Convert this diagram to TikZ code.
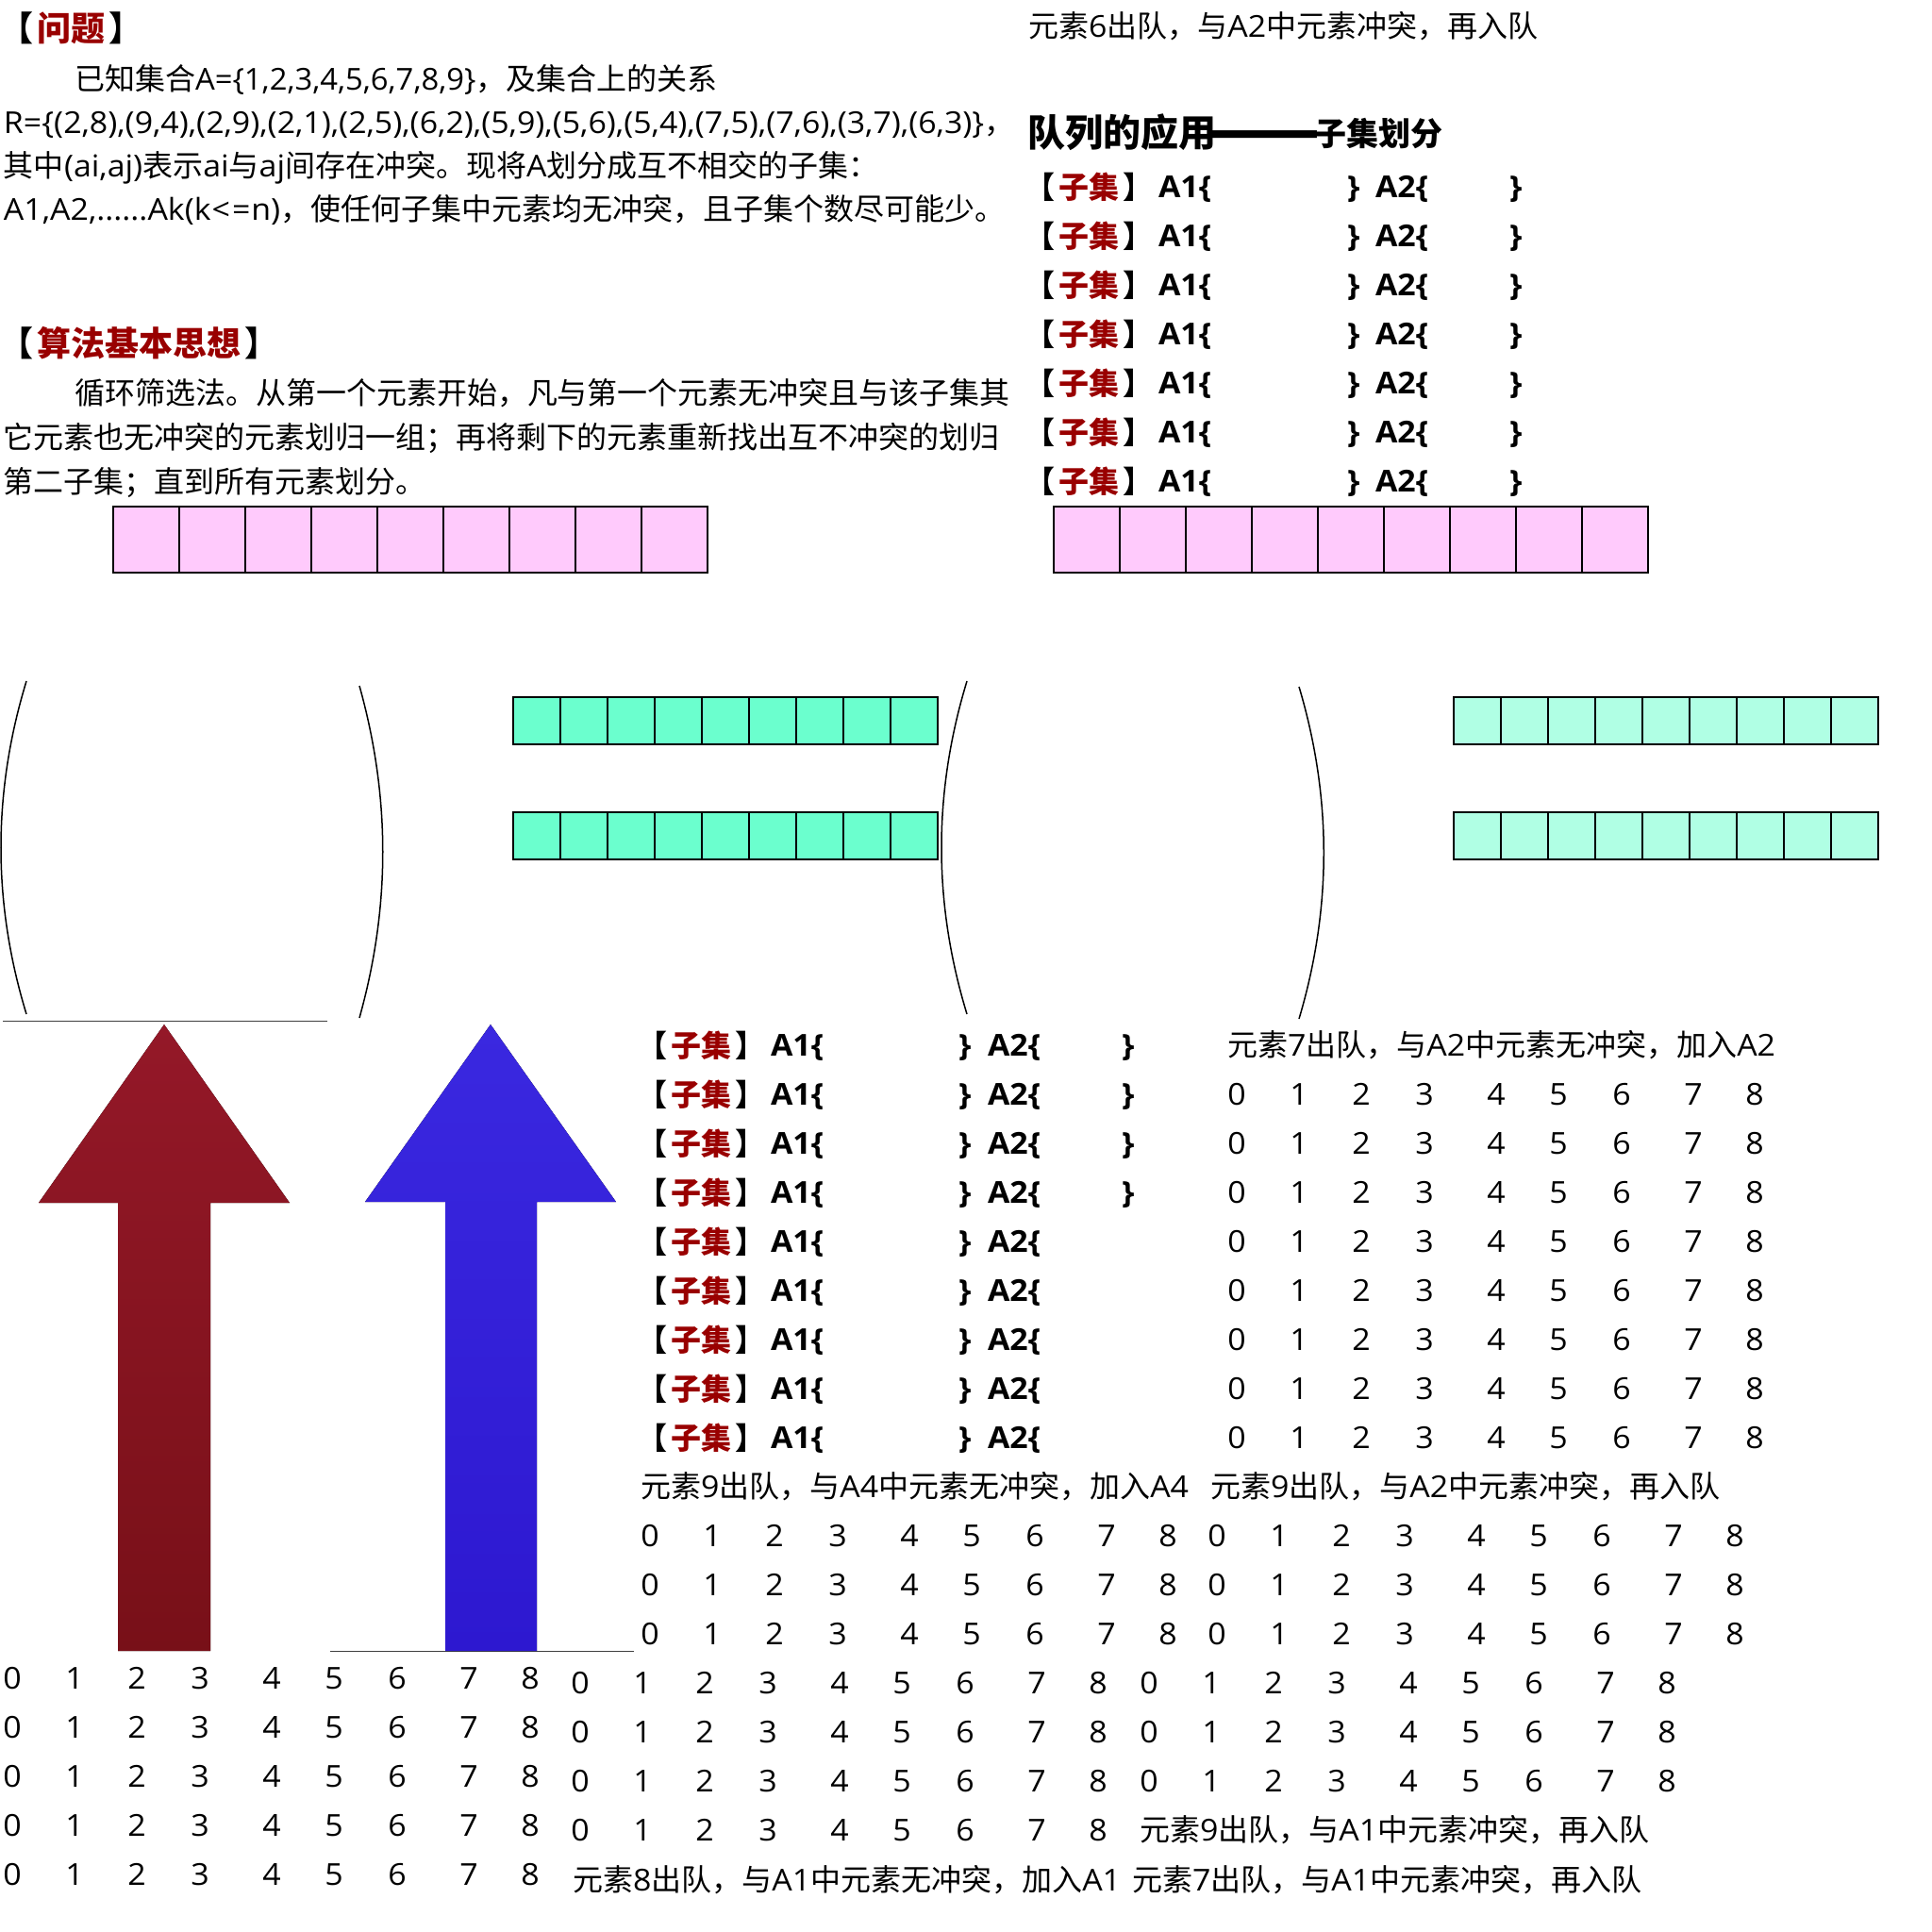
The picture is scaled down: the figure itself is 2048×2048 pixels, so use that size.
\documentclass[tikz,border=0pt]{standalone}
\usepackage{fontspec}
\setmainfont[FakeStretch=1.06]{Open Sans}
\newfontfamily\mildlatin[FakeStretch=1.025]{Open Sans}
\newfontfamily\cjk{Noto Sans CJK SC}
\newcommand{\Z}[1]{{\cjk #1}}
\definecolor{hdred}{HTML}{990000}
\definecolor{cellpink}{HTML}{FFCAFC}
\definecolor{cellgreen}{HTML}{6BFFCE}
\definecolor{cellmint}{HTML}{B0FFE4}
\definecolor{redtop}{HTML}{941828}
\definecolor{redbot}{HTML}{781018}
\definecolor{bluetop}{HTML}{3A28E0}
\definecolor{bluebot}{HTML}{2D18D0}
\tikzset{
  txt/.style={anchor=base west,inner sep=0pt,outer sep=0pt,font=\fontsize{32}{32}\selectfont},
  setlabel/.style={txt,font=\fontsize{32}{32}\selectfont\bfseries},
  heading/.style={txt,font=\fontsize{36}{36}\selectfont\bfseries},
  digit/.style={anchor=base,inner sep=0pt,outer sep=0pt,font=\fontsize{32}{32}\selectfont},
  cell/.style={draw=black,line width=1.4pt,inner sep=0pt,outer sep=0pt,anchor=north west,minimum width=#1,minimum height=#1},
  frameline/.style={draw=black,line width=2.6pt},
  bow/.style={draw=black,line width=1.5pt},
  hairline/.style={draw=black!75,line width=1pt},
}
\newcommand{\brk}[1]{\Z{【\kern4pt\textcolor{hdred}{#1}\kern4pt】}}
\newcommand{\digitrow}[3]{%
  \foreach \d/\off in {0/0,1/66,2/132,3/199,4/275,5/341,6/408,7/484,8/549}{%
    \node[digit] (#1-\d) at ({#2+\off},#3) {\d};}}
\newcommand{\setrow}[6]{% name, x of bracket, x A1, x }, x A2, y
  \node[setlabel] (#1-a) at ({#2-4},{#6+1}) {\brk{子集}};
  \node[setlabel] (#1-b) at (#3,#6) {A1\{};
  \node[setlabel] (#1-c) at (#4,#6) {\}};
  \node[setlabel] (#1-d) at (#5,#6) {A2\{};}
\begin{document}
\begin{tikzpicture}[x=1pt,y=-1pt]
\useasboundingbox (0,0) rectangle (2048,2048);
% left text
\node[heading] (q) at (-1,43) {\brk{问题}};
\node[txt] (l1) at (79,95) {\Z{已知集合}{\mildlatin A=\{1,2,3,4,5,6,7,8,9\}}\Z{，及集合上的关系}};
\node[txt] (l2) at (4,141) {R=\{(2,8),(9,4),(2,9),(2,1),(2,5),(6,2),(5,9),(5,6),(5,4),(7,5),(7,6),(3,7),(6,3)\}\Z{，}};
\node[txt] (l3) at (4,187) {\Z{其中}(ai,aj)\Z{表示}ai\Z{与}aj\Z{间存在冲突。现将}A\Z{划分成互不相交的子集：}};
\node[txt] (l4) at (4,233) {A1,A2,......Ak(k\kern1pt<\kern2pt=\kern1pt n)\Z{，使任何子集中元素均无冲突，且子集个数尽可能少。}};
\node[heading] (alg) at (-1,377) {\brk{算法基本思想}};
\node[txt] (m1) at (79,428) {\Z{循环筛选法。从第一个元素开始，凡与第一个元素无冲突且与该子集其}};
\node[txt] (m2) at (4,475) {\Z{它元素也无冲突的元素划归一组；再将剩下的元素重新找出互不冲突的划归}};
\node[txt] (m3) at (4,522) {\Z{第二子集；直到所有元素划分。}};
% right top text
\node[txt] (t6) at (1090,39) {\Z{元素}6\Z{出队，与}A2\Z{中元素冲突，再入队}};
\node[txt,font=\fontsize{72}{72}\selectfont\bfseries] (ttd) at (1276,163) {\Z{——}};
\node[txt,font=\fontsize{40}{40}\selectfont\bfseries] (ttl) at (1089,155) {\Z{队列的应用}};
\node[txt,font=\fontsize{34}{34}\selectfont\bfseries] (tts) at (1393,154) {\Z{子集划分}};
% upper set rows
\foreach \r/\y in {1/209,2/261,3/313,4/365,5/417,6/469,7/521}{
  \setrow{u\r}{1090}{1228}{1428}{1458}{\y}
  \node[setlabel] (u\r-e) at (1600,\y) {\}};
}
% pink queues
\foreach \i in {1,...,9}{
  \node[cell=70pt,fill=cellpink] (p\i) at ({120+70*(\i-1)},537) {};
  \node[cell=70pt,fill=cellpink] (q\i) at ({1117+70*(\i-1)},537) {};
}
\draw[frameline] (p1.north west) rectangle (p9.south east);
\draw[frameline] (q1.north west) rectangle (q9.south east);
% green queues
\foreach \i in {1,...,9}{
  \node[cell=50pt,fill=cellgreen] (g\i) at ({544+50*(\i-1)},739) {};
  \node[cell=50pt,fill=cellgreen] (h\i) at ({544+50*(\i-1)},861) {};
  \node[cell=50pt,fill=cellmint] (j\i) at ({1541+50*(\i-1)},739) {};
  \node[cell=50pt,fill=cellmint] (k\i) at ({1541+50*(\i-1)},861) {};
}
\draw[frameline] (g1.north west) rectangle (g9.south east);
\draw[frameline] (h1.north west) rectangle (h9.south east);
\draw[frameline] (j1.north west) rectangle (j9.south east);
\draw[frameline] (k1.north west) rectangle (k9.south east);
% bows
\draw[bow] (28,722) .. controls (-8,840) and (-8,957) .. (28,1075);
\draw[bow] (381,727) .. controls (414,845) and (414,961) .. (381,1079);
\draw[bow] (1025,722) .. controls (989,840) and (989,957) .. (1025,1075);
\draw[bow] (1377,728) .. controls (1412,845) and (1412,963) .. (1377,1080);
% rules
\draw[hairline] (3,1082) -- (347,1082);
\draw[hairline] (350,1750) -- (672,1750);
% arrows
\fill[top color=redtop,middle color=redtop,bottom color=redbot]
  (174,1086) -- (307,1275) -- (223,1275) -- (223,1750) -- (125,1750) -- (125,1275) -- (41,1275) -- cycle;
\fill[top color=bluetop,bottom color=bluebot]
  (520,1086) -- (653,1274) -- (569,1274) -- (569,1750) -- (472,1750) -- (472,1274) -- (387,1274) -- cycle;
% lower set rows
\foreach \r/\y in {1/1119,2/1171,3/1223,4/1275,5/1327,6/1379,7/1431,8/1483,9/1535}{
  \setrow{v\r}{679}{817}{1016}{1047}{\y}
}
\foreach \r/\y in {1/1119,2/1171,3/1223,4/1275}{
  \node[setlabel] (v\r-e) at (1189,\y) {\}};
}
% messages
\node[txt] (e1) at (1301,1119) {\Z{元素}7\Z{出队，与}A2\Z{中元素无冲突，加入}A2};
\node[txt] (e2) at (679,1587) {\Z{元素}9\Z{出队，与}A4\Z{中元素无冲突，加入}A4};
\node[txt] (e3) at (1283,1587) {\Z{元素}9\Z{出队，与}A2\Z{中元素冲突，再入队}};
\node[txt] (e4) at (1208,1951) {\Z{元素}9\Z{出队，与}A1\Z{中元素冲突，再入队}};
\node[txt] (e5) at (607,2004) {\Z{元素}8\Z{出队，与}A1\Z{中元素无冲突，加入}A1};
\node[txt] (e6) at (1200,2004) {\Z{元素}7\Z{出队，与}A1\Z{中元素冲突，再入队}};
% digit rows
\foreach \r/\y in {1/1171,2/1223,3/1275,4/1327,5/1379,6/1431,7/1483,8/1535}{\digitrow{da\r}{1311}{\y}}
\foreach \r/\y in {1/1639,2/1691,3/1743}{\digitrow{db\r}{689}{\y}\digitrow{dc\r}{1290}{\y}}
\foreach \r/\y in {1/1795,2/1847,3/1899}{\digitrow{dd\r}{615}{\y}\digitrow{de\r}{1218}{\y}}
\digitrow{df}{615}{1951}
\foreach \r/\y in {1/1790,2/1842,3/1894,4/1946,5/1998}{\digitrow{dg\r}{13}{\y}}
\end{tikzpicture}
\end{document}
